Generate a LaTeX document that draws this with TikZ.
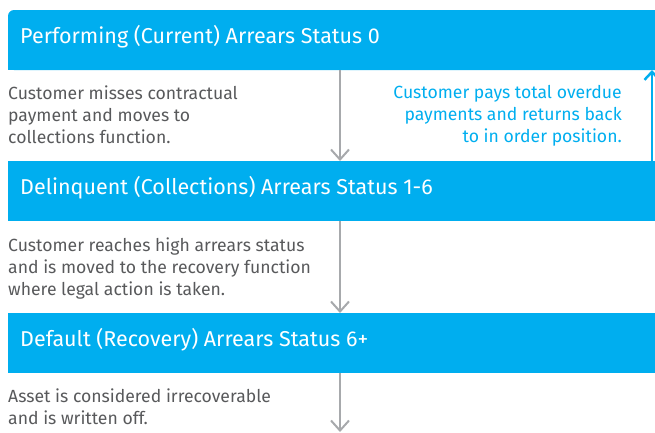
\documentclass[tikz,border=0pt]{standalone}
\usepackage{fontspec}
\setmainfont{Fira Sans}
\usetikzlibrary{arrows.meta}
\definecolor{stageblue}{HTML}{00AEEF}
\definecolor{notegray}{HTML}{58595B}
\definecolor{flowgray}{HTML}{A7A9AC}
\begin{document}
\begin{tikzpicture}[x=1pt,y=-1pt,
    stage/.style={fill=stageblue, minimum width=660pt, minimum height=60pt, anchor=north west, inner sep=0pt, outer sep=0pt},
    title/.style={text=white, font=\fontsize{21.5}{24}\selectfont, anchor=base west, inner sep=0pt},
    note/.style={text=notegray, font=\fontsize{17.6}{22}\selectfont, align=left, anchor=north west, inner sep=0pt},
    backnote/.style={note, text=stageblue, align=right, anchor=north east},
    flow/.style={draw=flowgray, line width=2pt, -{Straight Barb[length=10pt,width=18pt]}},
    back/.style={draw=stageblue, line width=2.5pt, -{Straight Barb[length=8pt,width=15pt]}}]
        \clip (0,0) rectangle (655,432);

        % stages
        \node[stage, rounded corners=6pt] (perf) at (8,10) {};
        \fill[stageblue] (perf.south west) rectangle ++(10,-10);
        \node[stage] (delq) at (8,161) {};
        \node[stage] (dflt) at (8,313) {};

        \node[title] (perfT) at (20,43.3) {Performing (Current) Arrears Status 0};
        \node[title] (delqT) at (20,194.3) {Delinquent (Collections) Arrears Status 1-6};
        \node[title] (dfltT) at (20,346.3) {Default (Recovery) Arrears Status 6+};

        % notes
        \node[note] (perfN) at (8,85.5) {Customer misses contractual\\payment and moves to\\collections function.};
        \node[backnote] (backN) at (622,85.5) {Customer pays total overdue\\payments and returns back\\to in order position.};
        \node[note] (delqN) at (8,237.5) {Customer reaches high arrears status\\and is moved to the recovery function\\where legal action is taken.};
        \node[note] (dfltN) at (8,388.5) {Asset is considered irrecoverable\\and is written off.};

        \coordinate (ax) at (340,0);
        \coordinate (bx) at (652,0);
        \coordinate (tail) at (340,432);

        \draw[flow] (perf.south -| ax) -- (delq.north -| ax);
        \draw[flow] (delq.south -| ax) -- (dflt.north -| ax);
        \draw[flow] (dflt.south -| ax) -- (tail);
        \draw[back] (delq.north -| bx) -- (perf.south -| bx);
\end{tikzpicture}
\end{document}
